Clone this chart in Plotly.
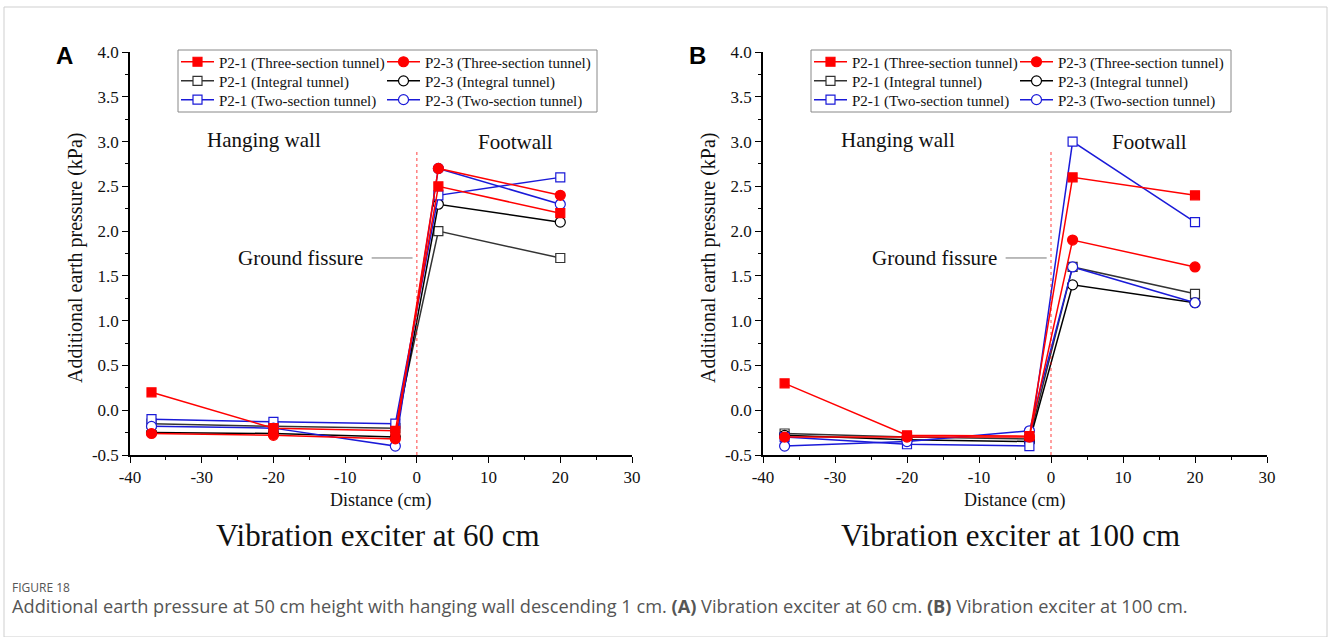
import plotly.graph_objects as go

# Measurement positions (cm from the ground fissure)
distance = [-37, -20, -3, 3, 20]

# (A) vibration exciter at 60 cm — additional earth pressure (kPa)
a_p21_three = [0.2, -0.2, -0.23, 2.5, 2.2]
a_p23_three = [-0.26, -0.28, -0.32, 2.7, 2.4]
a_p21_integral = [-0.15, -0.18, -0.2, 2.0, 1.7]
a_p23_integral = [-0.25, -0.26, -0.3, 2.3, 2.1]
a_p21_two = [-0.1, -0.13, -0.15, 2.4, 2.6]
a_p23_two = [-0.18, -0.2, -0.4, 2.7, 2.3]

# (B) vibration exciter at 100 cm — additional earth pressure (kPa)
b_p21_three = [0.3, -0.28, -0.29, 2.6, 2.4]
b_p23_three = [-0.3, -0.3, -0.3, 1.9, 1.6]
b_p21_integral = [-0.26, -0.3, -0.32, 1.6, 1.3]
b_p23_integral = [-0.28, -0.33, -0.35, 1.4, 1.2]
b_p21_two = [-0.3, -0.38, -0.4, 3.0, 2.1]
b_p23_two = [-0.4, -0.35, -0.23, 1.6, 1.2]

x_ticks = [-40, -30, -20, -10, 0, 10, 20, 30]
x_ticktext = ["-40", "-30", "-20", "-10", "0", "10", "20", "30"]
y_ticks = [-0.5, 0.0, 0.5, 1.0, 1.5, 2.0, 2.5, 3.0, 3.5, 4.0]
y_ticktext = ["-0.5", "0.0", "0.5", "1.0", "1.5", "2.0", "2.5", "3.0", "3.5", "4.0"]

W, H = 1328, 637
SERIF = "Liberation Serif"
RED, BLACK, BLUE = "#ff0000", "#000000", "#1a1ad8"


def px(v):
    return v / W


def py(v):
    return 1 - v / H


# series styling: (label, colour, symbol, filled, legend row, legend column)
styles = {
    "p21_three": ("P2-1 (Three-section tunnel)", RED, "square", True, 0, 0),
    "p23_three": ("P2-3 (Three-section tunnel)", RED, "circle", True, 0, 1),
    "p21_integral": ("P2-1 (Integral tunnel)", "#333333", "square", False, 1, 0),
    "p23_integral": ("P2-3 (Integral tunnel)", BLACK, "circle", False, 1, 1),
    "p21_two": ("P2-1 (Two-section tunnel)", BLUE, "square", False, 2, 0),
    "p23_two": ("P2-3 (Two-section tunnel)", BLUE, "circle", False, 2, 1),
}

panel_a = {
    "p21_three": a_p21_three, "p23_three": a_p23_three,
    "p21_integral": a_p21_integral, "p23_integral": a_p23_integral,
    "p21_two": a_p21_two, "p23_two": a_p23_two,
}
panel_b = {
    "p21_three": b_p21_three, "p23_three": b_p23_three,
    "p21_integral": b_p21_integral, "p23_integral": b_p23_integral,
    "p21_two": b_p21_two, "p23_two": b_p23_two,
}

# legend grid: one single-entry legend per cell (panel, row, column)
legend_x = [[176, 382], [809, 1015]]
legend_y = [45.5, 64.6, 83.4]


def legend_id(p, row, col):
    n = p * 6 + row * 2 + col + 1
    return "legend" if n == 1 else f"legend{n}"


fig = go.Figure()

# draw black first, then blue, then red so red markers sit on top
draw_order = ["p21_integral", "p23_integral", "p21_two", "p23_two", "p21_three", "p23_three"]

for p, (data, xa, ya) in enumerate([(panel_a, "x", "y"), (panel_b, "x2", "y2")]):
    for key in draw_order:
        label, color, symbol, filled, row, col = styles[key]
        fig.add_trace(go.Scatter(
            x=distance, y=data[key], mode="lines+markers", name=label,
            xaxis=xa, yaxis=ya, legend=legend_id(p, row, col),
            line=dict(color=color, width=1.5),
            marker=dict(symbol=symbol, size=10 if symbol == "circle" else 9,
                        color=color if filled else "white",
                        line=dict(color=color, width=1.2)),
        ))

axis_common = dict(
    showline=True, linecolor="black", linewidth=1.5, mirror=False,
    ticks="outside", ticklen=6, tickwidth=1.3, tickcolor="black",
    showgrid=False, zeroline=False, automargin=False,
    tickfont=dict(family=SERIF, size=17, color="#111"),
)
x_common = dict(axis_common, range=[-40, 30], tickvals=x_ticks, ticktext=x_ticktext,
                minor=dict(ticks="outside", ticklen=3, tickwidth=1.2,
                           tickcolor="black", dtick=5, showgrid=False))
y_common = dict(axis_common, range=[-0.5, 4.0], tickvals=y_ticks, ticktext=y_ticktext,
                minor=dict(ticks="outside", ticklen=3, tickwidth=1.2,
                           tickcolor="black", dtick=0.25, showgrid=False))

y_dom = [py(455), py(52)]
fig.update_layout(
    xaxis=dict(x_common, domain=[px(130), px(632)], anchor="y"),
    yaxis=dict(y_common, domain=y_dom, anchor="x"),
    xaxis2=dict(x_common, domain=[px(763), px(1267)], anchor="y2"),
    yaxis2=dict(y_common, domain=y_dom, anchor="x2"),
)

legend_common = dict(
    orientation="v", xanchor="left", yanchor="top",
    bgcolor="rgba(0,0,0,0)", borderwidth=0, itemwidth=33,
    font=dict(family=SERIF, size=15, color="#111"), tracegroupgap=0,
)
legend_layout = {}
for p in range(2):
    for row in range(3):
        for col in range(2):
            legend_layout[legend_id(p, row, col)] = dict(
                legend_common, x=px(legend_x[p][col]), y=py(legend_y[row]))
fig.update_layout(**legend_layout)

shapes = [
    # page frame
    dict(type="rect", xref="paper", yref="paper", x0=px(4), x1=px(1327), y0=0, y1=py(7),
         line=dict(color="#cfcfcf", width=1)),
    # legend frames
    dict(type="rect", xref="paper", yref="paper", x0=px(178), x1=px(597), y0=py(112), y1=py(50),
         line=dict(color="#888", width=1)),
    dict(type="rect", xref="paper", yref="paper", x0=px(811), x1=px(1231), y0=py(112), y1=py(50),
         line=dict(color="#888", width=1)),
]
annotations = []


def note(x, y, text, size, xanchor="center", color="#111", family=SERIF, **kw):
    return dict(xref="paper", yref="paper", x=px(x), y=py(y), text=text, showarrow=False,
                xanchor=xanchor, yanchor="middle",
                font=dict(family=family, size=size, color=color), **kw)


for xa, ya, xc, title in [("x", "y", 378, "Vibration exciter at 60 cm"),
                          ("x2", "y2", 1010, "Vibration exciter at 100 cm")]:
    # fissure location
    shapes.append(dict(type="line", xref=xa, yref=ya, x0=0, x1=0, y0=-0.5, y1=2.9,
                       line=dict(color="rgba(255,0,0,0.75)", width=1, dash="dot")))
    # leader line for the fissure label
    shapes.append(dict(type="line", xref=xa, yref=ya, x0=-6.3, x1=-0.6, y0=1.7, y1=1.7,
                       line=dict(color="#777", width=1)))
    annotations += [
        dict(xref=xa, yref=ya, x=-7.2, y=1.7, xanchor="right", yanchor="middle",
             text="Ground fissure", showarrow=False,
             font=dict(family=SERIF, size=21, color="#111")),
        dict(xref=xa, yref=ya, x=-21.3, y=3.02, xanchor="center", yanchor="middle",
             text="Hanging wall", showarrow=False,
             font=dict(family=SERIF, size=21, color="#111")),
        dict(xref=xa, yref=ya, x=13.7, y=2.99, xanchor="center", yanchor="middle",
             text="Footwall", showarrow=False,
             font=dict(family=SERIF, size=21, color="#111")),
        note(xc, 535, title, 31),
    ]

for xl, xt in [(130, 380), (763, 1015)]:
    annotations += [
        note(xt, 500, "Distance (cm)", 18),
        note(xl - 55, 258, "Additional earth pressure (kPa)", 20, textangle=-90),
    ]

annotations += [
    note(64, 55, "<b>A</b>", 24, color="black", family="Liberation Sans"),
    note(697, 55, "<b>B</b>", 24, color="black", family="Liberation Sans"),
    note(10, 587, "FIGURE 18", 12, xanchor="left", color="#555", family="Open Sans"),
    note(10, 606, "Additional earth pressure at 50 cm height with hanging wall descending 1 cm. "
                  "<b>(A)</b> Vibration exciter at 60 cm. <b>(B)</b> Vibration exciter at 100 cm.",
         18.2, xanchor="left", color="#555", family="Open Sans"),
]

fig.update_layout(
    width=W, height=H, margin=dict(l=0, r=0, t=0, b=0, autoexpand=False),
    paper_bgcolor="white", plot_bgcolor="white",
    shapes=shapes, annotations=annotations, showlegend=True,
)

fig.write_html("out.html")
